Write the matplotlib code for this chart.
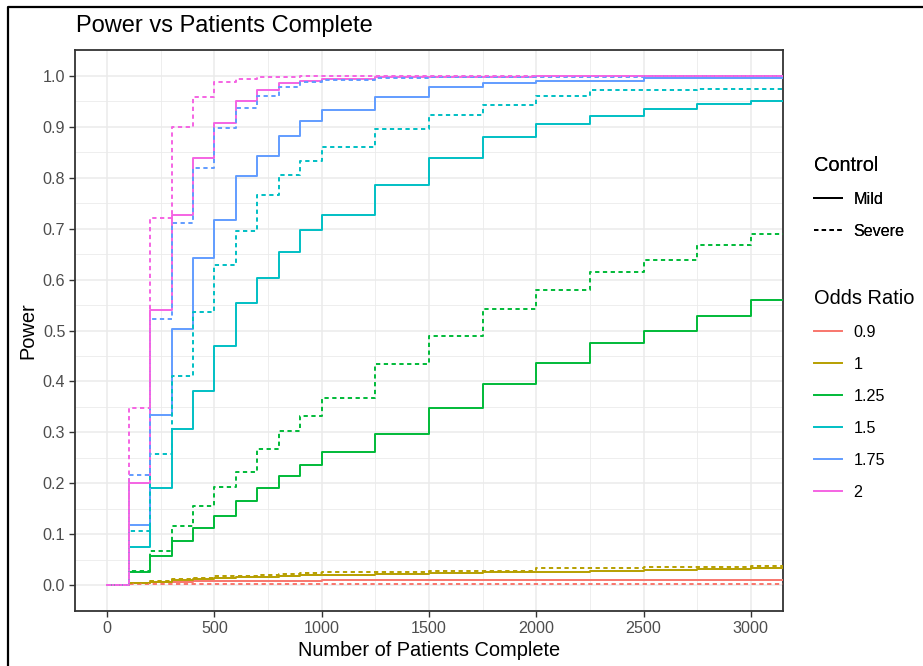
#Power curves by number of patients complete
import matplotlib.pyplot as plt
from matplotlib.lines import Line2D
import numpy as np

#Patients complete at each interim look
patients = [0, 100, 200, 300, 400, 500, 600, 700, 800, 900, 1000,
            1250, 1500, 1750, 2000, 2250, 2500, 2750, 3000]

#Odds ratio levels and their colours
odds_ratios = ['0.9', '1', '1.25', '1.5', '1.75', '2']
or_colors = ['#F8766D', '#B79F00', '#00BA38', '#00BFC4', '#619CFF', '#F564E3']

#Control groups
controls = ['Mild', 'Severe']

#Power, mild control
mild_090 = [0, 0.004, 0.006, 0.007, 0.008, 0.008, 0.009, 0.009, 0.009, 0.009, 0.010,
            0.010, 0.010, 0.010, 0.010, 0.010, 0.010, 0.010, 0.010]
mild_100 = [0, 0.004, 0.007, 0.010, 0.012, 0.014, 0.016, 0.017, 0.018, 0.020, 0.021,
            0.022, 0.024, 0.026, 0.027, 0.029, 0.030, 0.032, 0.034]
mild_125 = [0, 0.027, 0.058, 0.087, 0.113, 0.136, 0.166, 0.191, 0.214, 0.236, 0.262,
            0.298, 0.348, 0.395, 0.436, 0.475, 0.500, 0.528, 0.560]
mild_150 = [0, 0.075, 0.191, 0.306, 0.381, 0.469, 0.554, 0.603, 0.654, 0.698, 0.726,
            0.785, 0.839, 0.879, 0.904, 0.921, 0.934, 0.945, 0.951]
mild_175 = [0, 0.118, 0.334, 0.503, 0.642, 0.717, 0.802, 0.843, 0.882, 0.910, 0.932,
            0.957, 0.978, 0.986, 0.990, 0.990, 0.995, 0.995, 0.995]
mild_200 = [0, 0.200, 0.540, 0.726, 0.838, 0.906, 0.951, 0.971, 0.986, 0.989, 0.994,
            0.997, 0.998, 0.998, 0.999, 0.999, 0.999, 0.999, 0.999]

#Power, severe control
severe_090 = [0, 0.002, 0.003, 0.003, 0.003, 0.003, 0.003, 0.003, 0.003, 0.003, 0.003,
              0.003, 0.003, 0.003, 0.003, 0.003, 0.003, 0.003, 0.003]
severe_100 = [0, 0.005, 0.008, 0.013, 0.015, 0.018, 0.019, 0.021, 0.022, 0.025, 0.026,
              0.027, 0.028, 0.029, 0.034, 0.035, 0.036, 0.037, 0.038]
severe_125 = [0, 0.028, 0.068, 0.117, 0.156, 0.194, 0.223, 0.267, 0.302, 0.333, 0.368,
              0.434, 0.489, 0.542, 0.580, 0.614, 0.639, 0.667, 0.690]
severe_150 = [0, 0.107, 0.258, 0.411, 0.536, 0.628, 0.696, 0.766, 0.804, 0.832, 0.860,
              0.896, 0.922, 0.942, 0.959, 0.971, 0.972, 0.974, 0.974]
severe_175 = [0, 0.217, 0.522, 0.711, 0.818, 0.897, 0.937, 0.959, 0.977, 0.987, 0.992,
              0.995, 0.997, 0.998, 0.998, 0.998, 0.999, 0.999, 0.999]
severe_200 = [0, 0.348, 0.720, 0.899, 0.957, 0.987, 0.994, 0.997, 0.998, 0.999, 0.999,
              1.0, 1.0, 1.0, 1.0, 1.0, 1.0, 1.0, 1.0]

power = {
    'Mild': [mild_090, mild_100, mild_125, mild_150, mild_175, mild_200],
    'Severe': [severe_090, severe_100, severe_125, severe_150, severe_175, severe_200],
}
line_styles = {'Mild': '-', 'Severe': (0, (2.2, 1.8))}

plt.rcParams['font.family'] = ['Liberation Sans', 'DejaVu Sans']

fig = plt.figure(figsize=(9.23, 6.66), dpi=100)
ax = fig.add_axes([0.0813, 0.0826, 0.767, 0.8423])

x_min, x_max = -150, 3150
ax.set_xlim(x_min, x_max)
ax.set_ylim(-0.05, 1.05)

#Step lines, held flat out to the right edge of the panel
x_line = np.append(patients, x_max)
for control in controls:
    for series, color in zip(power[control], or_colors):
        y_line = np.append(series, series[-1])
        ax.plot(x_line, y_line, drawstyle='steps-post', color=color,
                linestyle=line_styles[control], linewidth=1.4, zorder=3)

#theme_bw style panel
ax.set_xticks(np.arange(0, 3001, 500))
ax.set_xticks(np.arange(250, 3001, 500), minor=True)
ax.set_yticks(np.arange(0, 1.01, 0.1))
ax.set_yticks(np.arange(0.05, 1.0, 0.1), minor=True)
ax.set_yticklabels([f'{v:.1f}' for v in np.arange(0, 1.01, 0.1)])
ax.grid(which='major', color='#EBEBEB', linewidth=1.1, zorder=0)
ax.grid(which='minor', color='#EBEBEB', linewidth=0.6, zorder=0)
ax.set_axisbelow(True)
ax.tick_params(which='major', length=4, width=1, color='#333333',
               labelsize=11.6, labelcolor='#4D4D4D', pad=3)
ax.tick_params(which='minor', length=0)
for spine in ax.spines.values():
    spine.set_color('#333333')
    spine.set_linewidth(1.3)

ax.set_xlabel('Number of Patients Complete', fontsize=14.4, labelpad=4)
ax.set_ylabel('Power', fontsize=14.4, labelpad=4)
fig.text(76 / 923, 1 - 32 / 666, 'Power vs Patients Complete', fontsize=17,
         ha='left', va='baseline')

#Legends
legend_kw = dict(loc='upper left', frameon=False, fontsize=11.6, title_fontsize=14.4,
                 alignment='left', handlelength=1.75, handletextpad=0.7,
                 labelspacing=1.05, borderpad=0)
control_handles = [Line2D([], [], color='black', linestyle=line_styles[c], linewidth=1.4)
                   for c in controls]
leg1 = fig.legend(control_handles, controls, title='Control',
                  bbox_to_anchor=(806 / 923, 1 - 148 / 666), **legend_kw)
or_handles = [Line2D([], [], color=c, linewidth=1.4) for c in or_colors]
leg2 = fig.legend(or_handles, odds_ratios, title='Odds Ratio',
                  bbox_to_anchor=(806 / 923, 1 - 281 / 666), **legend_kw)
fig.add_artist(leg1)

#Frame along the left and top edges
fig.add_artist(Line2D([8 / 923, 8 / 923, 1], [0, 1 - 7 / 666, 1 - 7 / 666],
                      color='black', linewidth=1.6))

plt.savefig('out.png', dpi=100)
